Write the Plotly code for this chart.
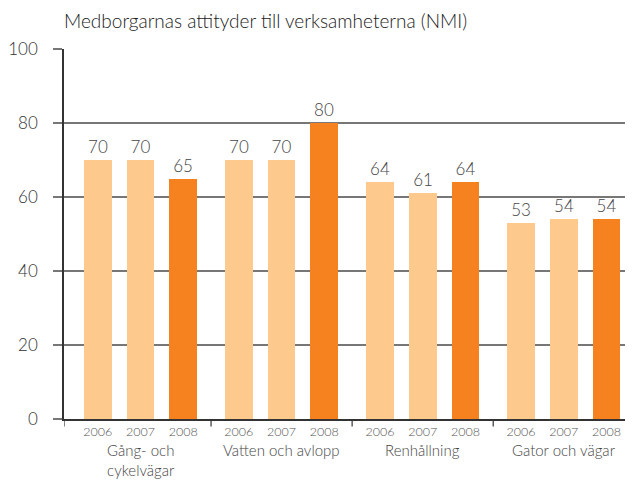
import plotly.graph_objects as go

title = "Medborgarnas attityder till verksamheterna (NMI)"
categories = ["Gång- och<br>cykelvägar", "Vatten och avlopp", "Renhållning", "Gator och vägar"]
years = ["2006", "2007", "2008"]
values = {
    "2006": [70, 70, 64, 53],
    "2007": [70, 70, 61, 54],
    "2008": [65, 80, 64, 54],
}
colors = {"2006": "#FDC98C", "2007": "#FDC98C", "2008": "#F5821F"}
y_ticks = [0, 20, 40, 60, 80, 100]

GROUP_STEP = 3.3
FONT = "Lato"
TXT = "#444444"
W = 300

fig = go.Figure()
tickvals, ticktext = [], []
for j, yr in enumerate(years):
    xs = [g * GROUP_STEP + j for g in range(len(categories))]
    tickvals += xs
    ticktext += [yr] * len(xs)
    fig.add_trace(go.Bar(
        x=xs, y=values[yr], width=0.65,
        marker=dict(color=colors[yr], line=dict(width=0)),
        text=[str(v) for v in values[yr]], textposition="outside",
        textfont=dict(family=FONT, size=17, color=TXT, weight=W),
        cliponaxis=False, showlegend=False, name=yr,
    ))

n = len(categories)
last = (n - 1) * GROUP_STEP + 2
xmin, xmax = -0.79, last + 0.62

# group separators below the axis
bounds = [xmin] + [g * GROUP_STEP + 2 + (GROUP_STEP - 2) / 2 for g in range(n - 1)]
for b in bounds:
    fig.add_shape(type="line", xref="x", yref="paper", x0=b, x1=b, y0=0, y1=-0.02,
                  line=dict(color="#333333", width=1.2))

# category labels
for g, cat in enumerate(categories):
    fig.add_annotation(x=g * GROUP_STEP + 1, xref="x", y=0, yref="paper",
                       yanchor="top", yshift=-20, text=cat, showarrow=False,
                       font=dict(family=FONT, size=15, color=TXT, weight=W), align="center")

fig.update_layout(
    width=625, height=475,
    margin=dict(l=54, r=0, t=41, b=64),
    paper_bgcolor="white", plot_bgcolor="white",
    bargap=0,
    title=dict(text=title, x=0, xref="paper", xanchor="left", y=0.985, yanchor="top",
               font=dict(family=FONT, size=19, color="#1a1a1a", weight=W)),
    xaxis=dict(range=[xmin, xmax], tickvals=tickvals, ticktext=ticktext,
               ticks="", showgrid=False, zeroline=False,
               showline=True, linecolor="#333333", linewidth=1.5,
               tickfont=dict(family=FONT, size=12.5, color="#555555", weight=W)),
    yaxis=dict(range=[0, 100], tickvals=y_ticks, ticks="outside", ticklen=9,
               tickcolor="#777777", tickwidth=1.5,
               showgrid=True, gridcolor="#777777", gridwidth=1.5,
               zeroline=False, showline=True, linecolor="#333333", linewidth=1.5,
               ticklabelstandoff=12,
               tickfont=dict(family=FONT, size=17, color="#333333", weight=W)),
)

fig.write_html("out.html")
